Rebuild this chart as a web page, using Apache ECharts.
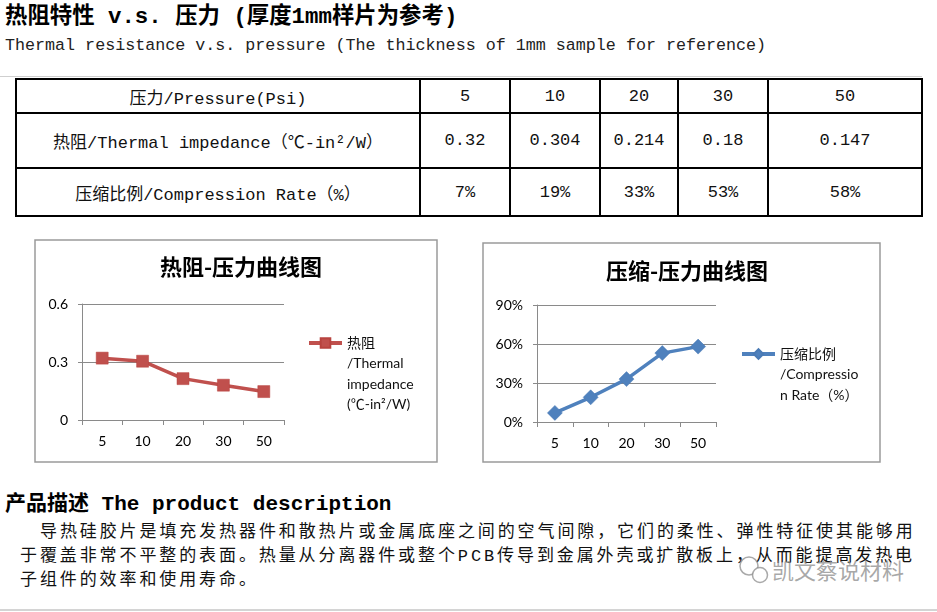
<!DOCTYPE html>
<html>
<head>
<meta charset="utf-8">
<script src="https://cdn.jsdelivr.net/npm/echarts@6/dist/echarts.min.js"></script>
<style>
  html, body { margin: 0; padding: 0; background: #fff; }
  body { width: 937px; height: 612px; position: relative; overflow: hidden; }
  .abs { position: absolute; white-space: nowrap; }
  .h1 { left: 5px; top: 3px; font: bold 22.4px/28px "Liberation Mono", "Noto Sans CJK SC", sans-serif; color: #000; }
  .h2 { left: 5px; top: 35px; font: 16.7px/22px "Liberation Mono", "Noto Sans CJK SC", monospace; color: #222; }
  table { position: absolute; left: 15px; top: 78px; border-collapse: collapse; table-layout: fixed;
          font: 17px "Liberation Mono", "Noto Sans CJK SC", monospace; color: #111; }
  td { border: 2px solid #000; text-align: center; vertical-align: middle; padding: 0; white-space: nowrap; }
  .desc-t { left: 5px; top: 491px; font: bold 21px/28px "Liberation Mono", "Noto Sans CJK SC", sans-serif; color: #000; }
  .p { font: 17px/24px "Liberation Mono", "Noto Sans CJK SC", sans-serif; color: #111; letter-spacing: 2.9px; }
  .wm { left: 772px; top: 555px; font: 22px/28px "Noto Sans CJK SC", sans-serif; color: rgba(140,140,140,0.75); }
  .rule { position: absolute; height: 1px; background: #cfcfcf; }
  #chart { position: absolute; left: 0; top: 0; width: 937px; height: 612px; z-index: 2; }
</style>
</head>
<body>
<div class="rule" style="left:0;top:76px;width:922px;"></div>
<div class="rule" style="left:0;top:609px;width:937px;height:2px;background:#d4d4d4;"></div>
<div class="abs h1">热阻特性 v.s. 压力 (厚度1mm样片为参考)</div>
<div class="abs h2">Thermal resistance v.s. pressure (The thickness of 1mm sample for reference)</div>
<table id="tbl"></table>
<div class="abs desc-t">产品描述 The product description</div>
<div class="abs p" style="left:40px;top:521px;">导热硅胶片是填充发热器件和散热片或金属底座之间的空气间隙，它们的柔性、弹性特征使其能够用</div>
<div class="abs p" style="left:20px;top:545px;">于覆盖非常不平整的表面。热量从分离器件或整个PCB传导到金属外壳或扩散板上，从而能提高发热电</div>
<div class="abs p" style="left:20px;top:569px;">子组件的效率和使用寿命。</div>
<div class="abs wm">凯文蔡说材料</div>
<div id="chart"></div>
<script>
// ---- data ----
const pressureLabels = ['5', '10', '20', '30', '50'];
const thermalImpedance = [0.32, 0.304, 0.214, 0.18, 0.147];
const compressionRate = [7, 19, 33, 53, 58]; // percent
const rowHeaders = ['压力/Pressure(Psi)', '热阻/Thermal impedance（℃-in²/W）', '压缩比例/Compression Rate（%）'];
const thermalName = '热阻/Thermal impedance (℃-in²/W)';
const compressionName = '压缩比例/Compression Rate（%）';
const thermalLegendLines = ['热阻', '/Thermal', 'impedance', '(℃-in²/W)'];
const compressionLegendLines = ['压缩比例', '/Compressio', 'n Rate（%）'];
const chartTitles = ['热阻-压力曲线图', '压缩-压力曲线图'];

// ---- table ----
const colW = [404, 90, 90, 78, 90, 154];
const rowH = [34, 55, 48];
const tbl = document.getElementById('tbl');
let html = '<colgroup>' + colW.map(w => '<col style="width:' + w + 'px">').join('') + '</colgroup>';
const rows = [
  pressureLabels,
  thermalImpedance.map(v => String(v)),
  compressionRate.map(v => v + '%')
];
rows.forEach((r, i) => {
  html += '<tr style="height:' + rowH[i] + 'px"><td>' + rowHeaders[i] + '</td>' + r.map(c => '<td>' + c + '</td>').join('') + '</tr>';
});
tbl.innerHTML = html;

// ---- charts ----
const chart = echarts.init(document.getElementById('chart'), null, { renderer: 'canvas' });
const axisGray = '#8a8a8a';
const latin = 'Lato, "Noto Sans CJK SC", sans-serif';
const L = 20.5;

// text block whose first line sits level with the legend icon
function legendText(lines) {
  const pad = [];
  for (let i = 1; i < lines.length; i++) pad.push('');
  return pad.concat(lines).join('\n');
}

function xAxisCfg(gi) {
  return {
    type: 'category', gridIndex: gi, data: pressureLabels, boundaryGap: true,
    axisLine: { show: true, lineStyle: { color: axisGray, width: 1 } },
    axisTick: { show: true, length: 5, inside: false, alignWithLabel: false, lineStyle: { color: axisGray } },
    axisLabel: { color: '#000', fontSize: 14, fontFamily: latin, margin: 14 }
  };
}
function yAxisCfg(gi, max, interval, fmt) {
  return {
    type: 'value', gridIndex: gi, min: 0, max: max, interval: interval,
    axisLine: { show: true, lineStyle: { color: axisGray, width: 1 } },
    axisTick: { show: true, length: 4, lineStyle: { color: axisGray } },
    splitLine: { show: true, lineStyle: { color: axisGray, width: 1 } },
    axisLabel: { color: '#000', fontSize: 14, fontFamily: latin, margin: 14, formatter: fmt }
  };
}

const titleFont = { fontSize: 22, fontWeight: 'bold', color: '#000', fontFamily: '"Noto Sans CJK SC", sans-serif' };
const option = {
  backgroundColor: 'transparent',
  animation: false,
  title: [
    { text: chartTitles[0], left: 236, top: 251, textAlign: 'center', textStyle: titleFont },
    { text: chartTitles[1], left: 682, top: 255, textAlign: 'center', textStyle: titleFont }
  ],
  graphic: [
    { type: 'rect', shape: { x: 35, y: 240, width: 402, height: 222 }, style: { fill: 'none', stroke: '#9a9a9a', lineWidth: 1.5 }, z: 0 },
    { type: 'rect', shape: { x: 483, y: 243, width: 397, height: 219 }, style: { fill: 'none', stroke: '#9a9a9a', lineWidth: 1.5 }, z: 0 },
    { type: 'circle', shape: { cx: 749, cy: 566, r: 9 }, style: { fill: 'none', stroke: 'rgba(140,140,140,0.75)', lineWidth: 1.5 } },
    { type: 'circle', shape: { cx: 760, cy: 575, r: 7.5 }, style: { fill: '#fff', stroke: 'rgba(140,140,140,0.75)', lineWidth: 1.5 } }
  ],
  grid: [
    { left: 82, top: 304, width: 202, height: 116 },
    { left: 537, top: 305, width: 179, height: 117 }
  ],
  xAxis: [xAxisCfg(0), xAxisCfg(1)],
  yAxis: [
    yAxisCfg(0, 0.6, 0.3, v => (v === 0 ? '0' : v.toFixed(1))),
    yAxisCfg(1, 90, 30, '{value}%')
  ],
  legend: [
    { data: [thermalName], left: 307, top: 343 - 3.5 * L, padding: 0, orient: 'vertical',
      itemWidth: 33, itemHeight: 12, lineStyle: { width: 4 },
      formatter: () => legendText(thermalLegendLines),
      textStyle: { fontSize: 14, fontFamily: latin, color: '#111', lineHeight: L } },
    { data: [compressionName], left: 740, top: 354 - 2.5 * L, padding: 0, orient: 'vertical',
      itemWidth: 33, itemHeight: 12, lineStyle: { width: 4 },
      formatter: () => legendText(compressionLegendLines),
      textStyle: { fontSize: 14, fontFamily: latin, color: '#111', lineHeight: L } }
  ],
  series: [
    { name: thermalName, type: 'line', xAxisIndex: 0, yAxisIndex: 0, data: thermalImpedance,
      symbol: 'rect', symbolSize: 12, showAllSymbol: true,
      lineStyle: { color: '#C0504D', width: 3.5 },
      itemStyle: { color: '#C0504D', borderColor: '#B8433F', borderWidth: 0.5 } },
    { name: compressionName, type: 'line', xAxisIndex: 1, yAxisIndex: 1, data: compressionRate,
      symbol: 'diamond', symbolSize: 15, showAllSymbol: true,
      lineStyle: { color: '#4F81BD', width: 3.5 },
      itemStyle: { color: '#4F81BD', borderColor: '#4A7AB5', borderWidth: 0.5 } }
  ]
};
chart.setOption(option);
</script>
</body>
</html>
